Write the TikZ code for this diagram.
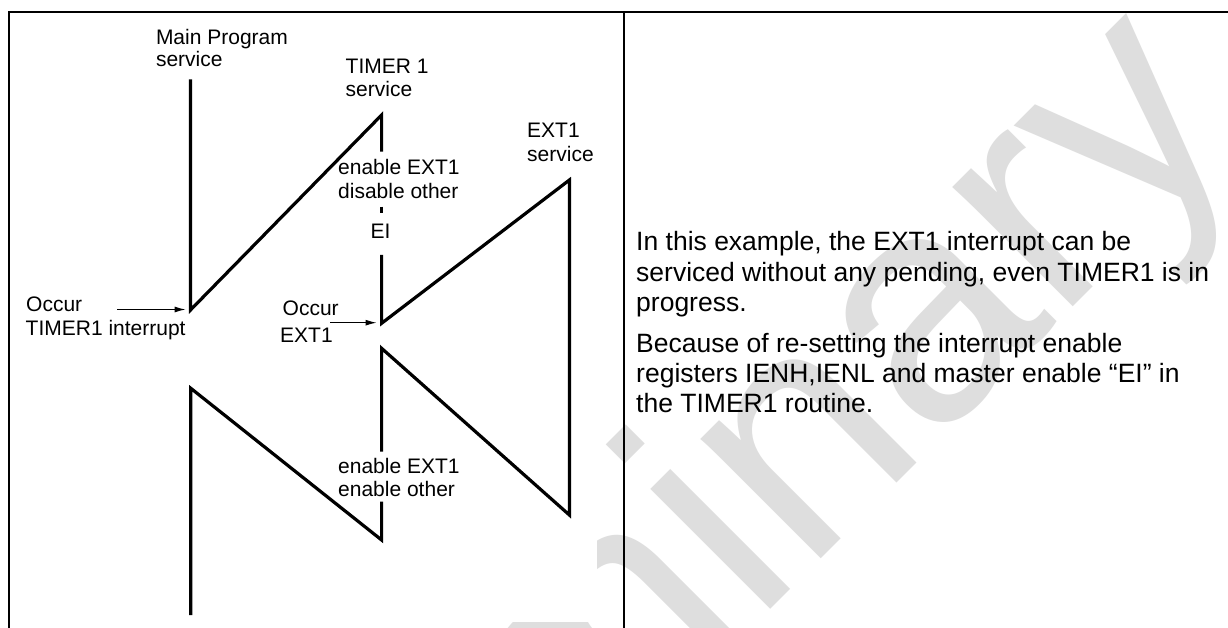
\documentclass[tikz,border=0pt]{standalone}
\usepackage{fontspec}
\setmainfont{Liberation Sans}
\usetikzlibrary{arrows.meta}
\begin{document}
\begin{tikzpicture}[x=1pt,y=-1pt,
  frameline/.style={line width=2.3pt},
  trace/.style={line width=3.2pt},
  lbl/.style={anchor=base west, inner sep=0pt, font=\fontsize{21}{23.5}\selectfont},
  body/.style={anchor=base west, inner sep=0pt, font=\fontsize{26.5}{30}\selectfont},
  occurarrow/.style={line width=1pt, -{Latex[length=11pt,width=6pt]}},
  wmark/.style={anchor=base west, inner sep=0pt, text=black!13, font=\fontsize{321}{321}\selectfont}]
\useasboundingbox (0,0) rectangle (1228,628);
\fill[white] (0,0) rectangle (1228,628);
% watermark
\begin{scope}
\clip (597,0) -- (1228,0) -- (1228,628) -- (0,628) -- (0,622) -- (597,622) -- cycle;
\node[wmark, rotate=45] (wm) at (112,1268) {Preliminary};
\end{scope}
% frame
\coordinate (fBL) at (8.7,628);
\coordinate (fTL) at (8.7,12.2);
\coordinate (fTR) at (1228,12.2);
\coordinate (dT) at (623.8,12.2);
\coordinate (dB) at (623.8,628);
\draw[frameline] (fBL) -- (fTL) -- (fTR);
\draw[frameline] (dT) -- (dB);
% vertices
\coordinate (mTop) at (190.5,79.3);
\coordinate (mV) at (190.5,310);
\coordinate (tTop) at (381.6,115);
\coordinate (tA) at (381.6,151.7);
\coordinate (tB1) at (381.6,206.7);
\coordinate (tB2) at (381.6,213.3);
\coordinate (tC) at (381.6,255);
\coordinate (tV) at (381.6,323.3);
\coordinate (eTop) at (569.4,180);
\coordinate (eBot) at (569.4,515);
\coordinate (tR) at (381.6,348.3);
\coordinate (tD) at (381.6,451.7);
\coordinate (tE) at (381.6,501.7);
\coordinate (tBot) at (381.6,540);
\coordinate (mR) at (190.8,388.3);
\coordinate (mBot) at (190.8,615);
\draw[trace] (mTop) -- (mV) -- (tTop) -- (tA);
\draw[trace] (tB1) -- (tB2);
\draw[trace] (tC) -- (tV) -- (eTop) -- (eBot) -- (tR) -- (tD);
\draw[trace] (tE) -- (tBot) -- (mR) -- (mBot);
% labels
\node[lbl] (mainA) at (155.8,44.3) {Main Program};
\node[lbl] (mainB) at (155.8,66.7) {service};
\node[lbl] (timA) at (345.5,73.3) {TIMER 1};
\node[lbl] (timB) at (345.5,96.7) {service};
\node[lbl] (extA) at (527,137.7) {EXT1};
\node[lbl] (extB) at (527,161.7) {service};
\node[lbl] (en1A) at (338,175) {enable EXT1};
\node[lbl] (en1B) at (338,199) {disable other};
\node[lbl] (ei) at (370.5,238.3) {EI};
\node[lbl] (occ1A) at (26,311.7) {Occur};
\node[lbl] (occ1B) at (25.5,335) {TIMER1 interrupt};
\node[lbl] (occ2A) at (282.5,315) {Occur};
\node[lbl] (occ2B) at (280,342.7) {EXT1};
\node[lbl] (en2A) at (338,473.3) {enable EXT1};
\node[lbl] (en2B) at (338,496.7) {enable other};
% arrows
\coordinate (a1s) at (117.4,309.5);
\coordinate (a1e) at (185.5,309.5);
\coordinate (a2s) at (330,322.7);
\coordinate (a2e) at (376.5,322.7);
\draw[occurarrow] (a1s) -- (a1e);
\draw[occurarrow] (a2s) -- (a2e);
% right text
\node[body] (p1a) at (636,251) {In this example, the EXT1 interrupt can be};
\node[body] (p1b) at (636,281) {serviced without any pending, even TIMER1 is in};
\node[body] (p1c) at (636,311) {progress.};
\node[body] (p2a) at (636,352) {Because of re-setting the interrupt enable};
\node[body] (p2b) at (636,382) {registers IENH,IENL and master enable “EI” in};
\node[body] (p2c) at (636,412) {the TIMER1 routine.};
\end{tikzpicture}
\end{document}
